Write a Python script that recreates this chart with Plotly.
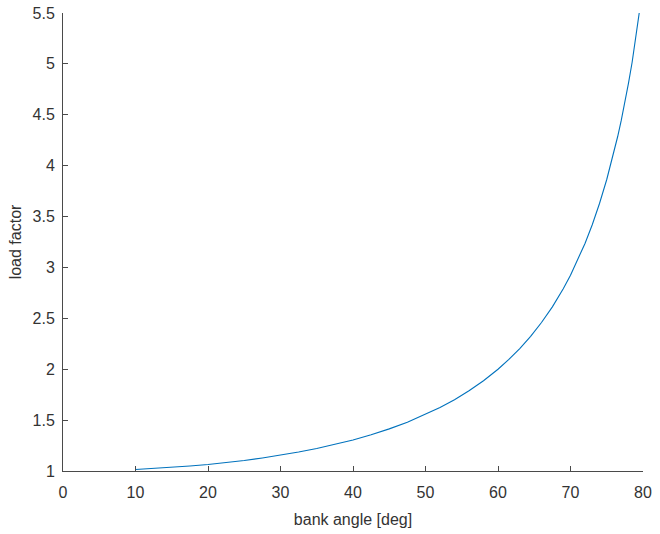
import plotly.graph_objects as go

bank_angle = [10, 12.5, 15, 17.5, 20, 22.5, 25, 27.5, 30, 32.5, 35, 37.5, 40, 42.5, 45, 47.5, 50,
              52, 54, 56, 58, 60, 61.5, 63, 64.5, 66, 67.5, 69, 70, 71, 72, 73, 74, 75, 76,
              76.5, 77, 77.5, 78, 78.5, 79, 79.5, 80]
load_factor = [1.015, 1.024, 1.035, 1.049, 1.064, 1.082, 1.103, 1.128, 1.155, 1.186, 1.221,
               1.260, 1.305, 1.356, 1.414, 1.480, 1.556, 1.624, 1.701, 1.788, 1.887, 2.000,
               2.096, 2.203, 2.323, 2.459, 2.613, 2.790, 2.924, 3.072, 3.236, 3.420, 3.628,
               3.864, 4.134, 4.284, 4.445, 4.620, 4.810, 5.016, 5.241, 5.487, 5.759]

x_ticks = [0, 10, 20, 30, 40, 50, 60, 70, 80]
y_ticks = [1, 1.5, 2, 2.5, 3, 3.5, 4, 4.5, 5, 5.5]

text_color = "#333333"
line_color = "#4a4a4a"
font = dict(family="Liberation Sans, Arial, sans-serif", size=16, color=text_color)

fig = go.Figure()
fig.add_trace(go.Scatter(x=bank_angle, y=load_factor, mode="lines",
                         line=dict(color="#0072BD", width=1.1)))

fig.update_layout(
    width=660, height=534,
    margin=dict(l=63, r=17, t=13, b=63),
    plot_bgcolor="white", paper_bgcolor="white",
    showlegend=False,
    font=font,
)
fig.update_xaxes(range=[0, 80], tickvals=x_ticks, ticktext=[str(v) for v in x_ticks],
                 showgrid=False, zeroline=False, showline=True, linecolor=line_color, linewidth=1,
                 ticks="inside", ticklen=5, tickcolor=line_color, tickwidth=1,
                 ticklabelstandoff=7, automargin=False,
                 title=dict(text="bank angle [deg]", font=font, standoff=13))
fig.update_yaxes(range=[1, 5.5], tickvals=y_ticks, ticktext=[f"{v:g}" for v in y_ticks],
                 showgrid=False, zeroline=False, showline=True, linecolor=line_color, linewidth=1,
                 ticks="inside", ticklen=5, tickcolor=line_color, tickwidth=1,
                 ticklabelstandoff=4, automargin=False,
                 title=dict(text="load factor", font=font, standoff=6))

fig.write_html("out.html")
